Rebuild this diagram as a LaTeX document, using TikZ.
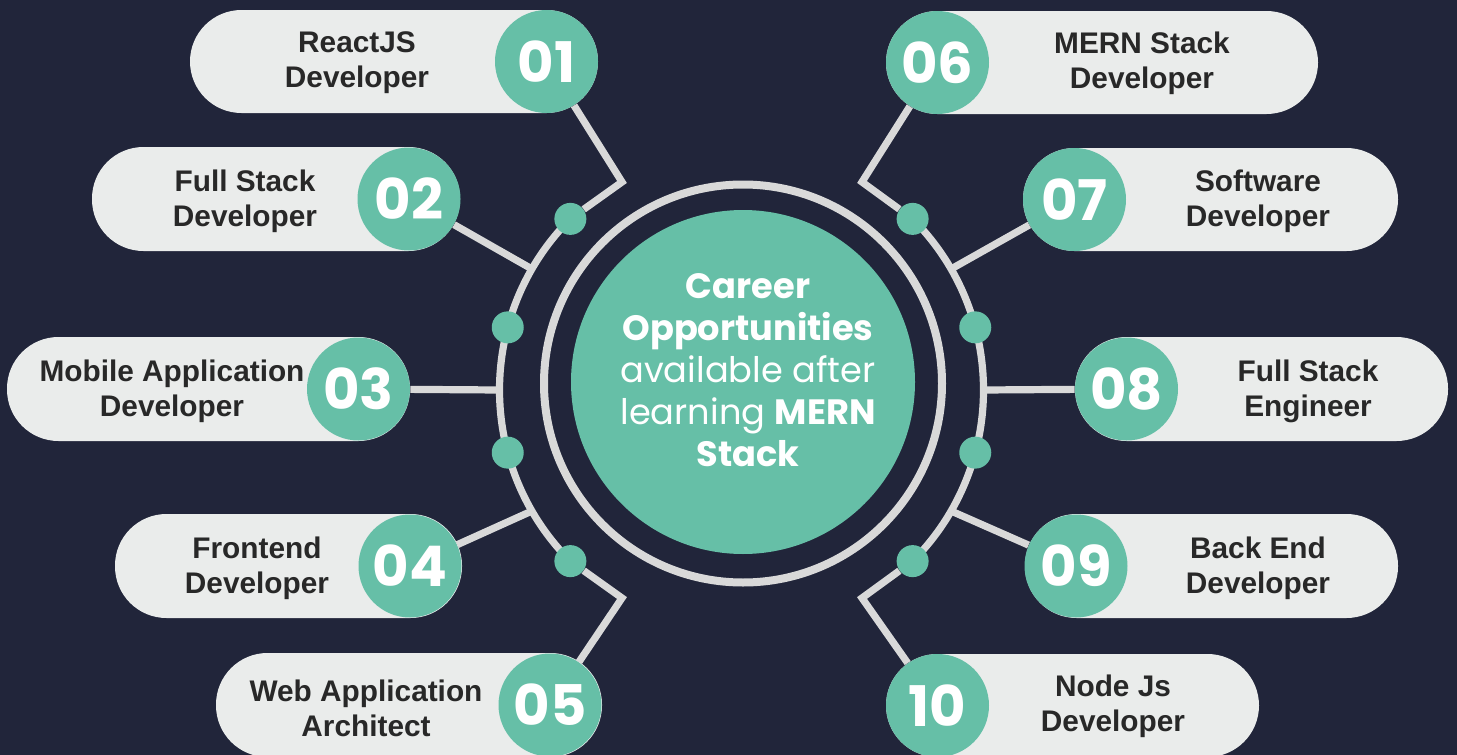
\documentclass[tikz,border=0pt]{standalone}
\usepackage{fontspec}
\setmainfont{Liberation Sans}
\newfontfamily\popfont{Poppins}
\usepackage{tikz}
\usetikzlibrary{calc}
\definecolor{navy}{RGB}{33,37,58}
\definecolor{mint}{RGB}{102,191,167}
\definecolor{pillgray}{RGB}{234,236,235}
\definecolor{wiregray}{RGB}{217,217,217}
\definecolor{ink}{RGB}{40,40,40}

\begin{document}
\begin{tikzpicture}[x=0.5pt, y=-0.5pt,
		pill/.style={fill=pillgray, rounded corners=25.75pt},
		num/.style={circle, fill=mint, minimum size=51.5pt, inner sep=0pt, text=white, font=\popfont\bfseries\fontsize{28}{28}\selectfont},
		lbl/.style={align=center, text=ink, font=\bfseries\fontsize{14.9}{17.6}\selectfont},
		dot/.style={circle, fill=mint, minimum size=16pt, inner sep=0pt},
		wire/.style={draw=wiregray, line width=3.6pt}]
			\useasboundingbox(0, 0)rectangle(1457, 755);
			\fill[navy](0, 0)rectangle(1457, 755);
			% middle
			\draw[wiregray, line width=4pt](743, 383.5)circle[radius=99.5pt];
			\node[circle, fill=mint, minimum size=172pt, inner sep=0pt](core)at(743, 382){};
			\node[align=center, text=white, font=\popfont\fontsize{17.6}{21}\selectfont](title)at(748, 370){\textbf{Career}\\\textbf{Opportunities}\\available after\\learning \textbf{MERN}\\\textbf{Stack}};
			% outer arcs and dots
			\coordinate(o)at(741.5, 390);
			\draw[wire]($(o)+(-135:242)$)arc[start angle=135, end angle=225, radius=121pt];
			\draw[wire]($(o)+(45:242)$)arc[start angle=-45, end angle=45, radius=121pt];
			\foreach \a[count=\i] in {-135,-165,-195,-225,-45,-15,15,45}
				\node[dot](d\i)at($(o)+(\a:242)$){};
			\coordinate(j2)at($(o)+(-150:242)$);
			\coordinate(j3)at($(o)+(180:242)$);
			\coordinate(j4)at($(o)+(150:242)$);
			\coordinate(j7)at($(o)+(-30:242)$);
			\coordinate(j8)at($(o)+(0:242)$);
			\coordinate(j9)at($(o)+(30:242)$);
			\coordinate(e1)at(622, 182);
			\coordinate(e5)at(622, 598);
			\coordinate(e6)at(862, 182);
			\coordinate(e10)at(862, 598);
			% left side
			\fill[pill](190, 10)rectangle(598, 113);
			\fill[pill](92, 147)rectangle(460, 251);
			\fill[pill](7, 337)rectangle(410, 441);
			\fill[pill](115, 514)rectangle(462, 618);
			\fill[pill](216, 653)rectangle(602, 757);
			\node[num](n1)at(546.5, 61.5){01};
			\node[num](n2)at(409, 199){02};
			\node[num](n3)at(358.5, 389){03};
			\node[num](n4)at(410, 566){04};
			\node[num](n5)at(550, 705){05};
			\node[lbl](t1)at(357, 63){ReactJS\\Developer};
			\node[lbl](t2)at(245, 201){Full Stack\\Developer};
			\node[lbl](t3)at(172, 391){Mobile Application\\Developer};
			\node[lbl](t4)at(257, 568){Frontend\\Developer};
			\node[lbl](t5)at(366, 708){Web Application\\Architect};
			% right side
			\fill[pill](886, 11)rectangle(1318, 114);
			\fill[pill](1023, 148)rectangle(1398, 251);
			\fill[pill](1075, 337)rectangle(1448, 441);
			\fill[pill](1025, 514)rectangle(1398, 618);
			\fill[pill](886, 654)rectangle(1259, 757);
			\node[num](n6)at(937.5, 62.5){06};
			\node[num](n7)at(1074.5, 199.5){07};
			\node[num](n8)at(1126.5, 389){08};
			\node[num](n9)at(1076, 566){09};
			\node[num](n10)at(937.5, 705.5){10};
			\node[lbl](t6)at(1142, 63){MERN Stack\\Developer};
			\node[lbl](t7)at(1258, 201){Software\\Developer};
			\node[lbl](t8)at(1308, 391){Full Stack\\Engineer};
			\node[lbl](t9)at(1258, 568){Back End\\Developer};
			\node[lbl](t10)at(1113, 706){Node Js\\Developer};
			% connectors
			\draw[wire](n1)--(e1)--(d1);
			\draw[wire](n2)--(j2);
			\draw[wire](n3)--(j3);
			\draw[wire](n4)--(j4);
			\draw[wire](n5)--(e5)--(d4);
			\draw[wire](n6)--(e6)--(d5);
			\draw[wire](n7)--(j7);
			\draw[wire](n8)--(j8);
			\draw[wire](n9)--(j9);
			\draw[wire](n10)--(e10)--(d8);
		\end{tikzpicture}
\end{document}
